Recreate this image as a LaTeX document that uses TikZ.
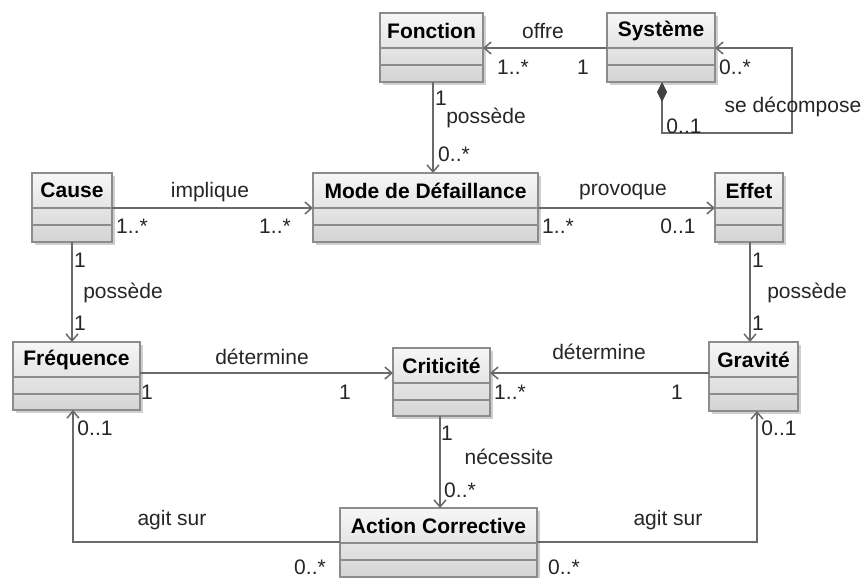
\documentclass[tikz,border=0pt]{standalone}
\usepackage{fontspec}
\setmainfont{Liberation Sans}
\usetikzlibrary{arrows.meta,calc}
\definecolor{linec}{HTML}{6A6A6A}
\definecolor{boxline}{HTML}{8C8C8C}
\definecolor{shadowc}{HTML}{CFCFCF}
\definecolor{topc}{HTML}{F6F6F6}
\definecolor{botc}{HTML}{D4D4D4}
\tikzset{
 umlbox/.style={draw=boxline, line width=0.75pt, top color=topc, bottom color=botc, inner sep=0pt, outer sep=0pt, anchor=north west},
 sepline/.style={draw=boxline, line width=0.75pt},
 title/.style={font=\fontsize{10.5}{12}\selectfont\bfseries, text=black, inner sep=0pt},
 lab/.style={font=\fontsize{10.5}{12}\selectfont, text=black!85, inner sep=0pt},
 assoc/.style={draw=linec, line width=0.75pt, -{Straight Barb[length=3.5pt,width=6pt]}},
 comp/.style={draw=linec, line width=0.75pt, {Diamond[length=10pt,width=5pt,fill=black!75,color=black!75]}-{Straight Barb[length=3.5pt,width=6pt]}},
}
\newcommand\umlclass[6]{%
 \fill[shadowc] (#2+3,#3+3) rectangle (#2+#4+3,#3+#5+3);
 \node[umlbox, minimum width=#4*0.5pt, minimum height=#5*0.5pt] (#1) at (#2,#3) {};
 \draw[sepline] ($(#1.north west)+(0,35)$) -- ($(#1.north east)+(0,35)$);
 \draw[sepline] ($(#1.north west)+(0,52)$) -- ($(#1.north east)+(0,52)$);
 \node[title] (#1-t) at ($(#1.north)+(0,17.5)$) {#6};
}
\begin{document}
\begin{tikzpicture}[x=0.5pt, y=-0.5pt]
\fill[white] (0,0) rectangle (863,578);
\useasboundingbox (0,0) rectangle (863,578);

\umlclass{fonction}{380}{13}{103}{69}{Fonction}
\umlclass{systeme}{607}{13}{108}{69}{Système}
\umlclass{cause}{32}{173}{80}{69}{Cause}
\umlclass{mode}{313}{173}{225}{69}{Mode de Défaillance}
\umlclass{effet}{715}{173}{68}{69}{Effet}
\umlclass{frequence}{13}{342}{127}{68}{Fréquence}
\umlclass{criticite}{393}{348}{97}{68}{Criticité}
\umlclass{gravite}{709}{342}{89}{69}{Gravité}
\umlclass{action}{340}{508}{197}{69}{Action Corrective}

% connectors
\draw[assoc] (systeme.west |- 0,48) -- (fonction.east |- 0,48);
\draw[comp] (systeme.south -| 662,0) |- (792,133) |- (systeme.east |- 0,48);
\draw[assoc] (fonction.south -| 433,0) -- (mode.north -| 433,0);
\draw[assoc] (cause.east |- 0,208) -- (mode.west |- 0,208);
\draw[assoc] (mode.east |- 0,208) -- (effet.west |- 0,208);
\draw[assoc] (cause.south -| 72,0) -- (frequence.north -| 72,0);
\draw[assoc] (effet.south -| 750,0) -- (gravite.north -| 750,0);
\draw[assoc] (frequence.east |- 0,373) -- (criticite.west |- 0,373);
\draw[assoc] (gravite.west |- 0,373) -- (criticite.east |- 0,373);
\draw[assoc] (criticite.south -| 440,0) -- (action.north -| 440,0);
\draw[assoc] (action.west |- 0,542) -| (frequence.south -| 73,0);
\draw[assoc] (action.east |- 0,542) -| (gravite.south -| 757,0);

% labels
\node[lab] (l1) at (543,31) {offre};
\node[lab] (l2) at (513,67) {1..*};
\node[lab] (l3) at (583,67) {1};
\node[lab] (l4) at (735,67) {0..*};
\node[lab] (l5) at (793,107) {se décompose};
\node[lab] (l6) at (684,126) {0..1};
\node[lab] (l7) at (441,98) {1};
\node[lab] (l8) at (486,118) {possède};
\node[lab] (l9) at (454,154) {0..*};
\node[lab] (l10) at (210,192) {implique};
\node[lab] (l11) at (132,226) {1..*};
\node[lab] (l12) at (275,226) {1..*};
\node[lab] (l13) at (623,192) {provoque};
\node[lab] (l14) at (558,226) {1..*};
\node[lab] (l15) at (678,226) {0..1};
\node[lab] (l16) at (80,260) {1};
\node[lab] (l17) at (123,293) {possède};
\node[lab] (l18) at (80,323) {1};
\node[lab] (l19) at (758,260) {1};
\node[lab] (l20) at (807,293) {possède};
\node[lab] (l21) at (758,323) {1};
\node[lab] (l22) at (262,357) {détermine};
\node[lab] (l23) at (147,392) {1};
\node[lab] (l24) at (345,392) {1};
\node[lab] (l25) at (599,352) {détermine};
\node[lab] (l26) at (510,392) {1..*};
\node[lab] (l27) at (677,392) {1};
\node[lab] (l28) at (447,433) {1};
\node[lab] (l29) at (509,457) {nécessite};
\node[lab] (l30) at (460,490) {0..*};
\node[lab] (l31) at (172,520) {agit sur};
\node[lab] (l32) at (95,428) {0..1};
\node[lab] (l33) at (310,567) {0..*};
\node[lab] (l34) at (668,520) {agit sur};
\node[lab] (l35) at (779,428) {0..1};
\node[lab] (l36) at (564,567) {0..*};
\end{tikzpicture}
\end{document}
